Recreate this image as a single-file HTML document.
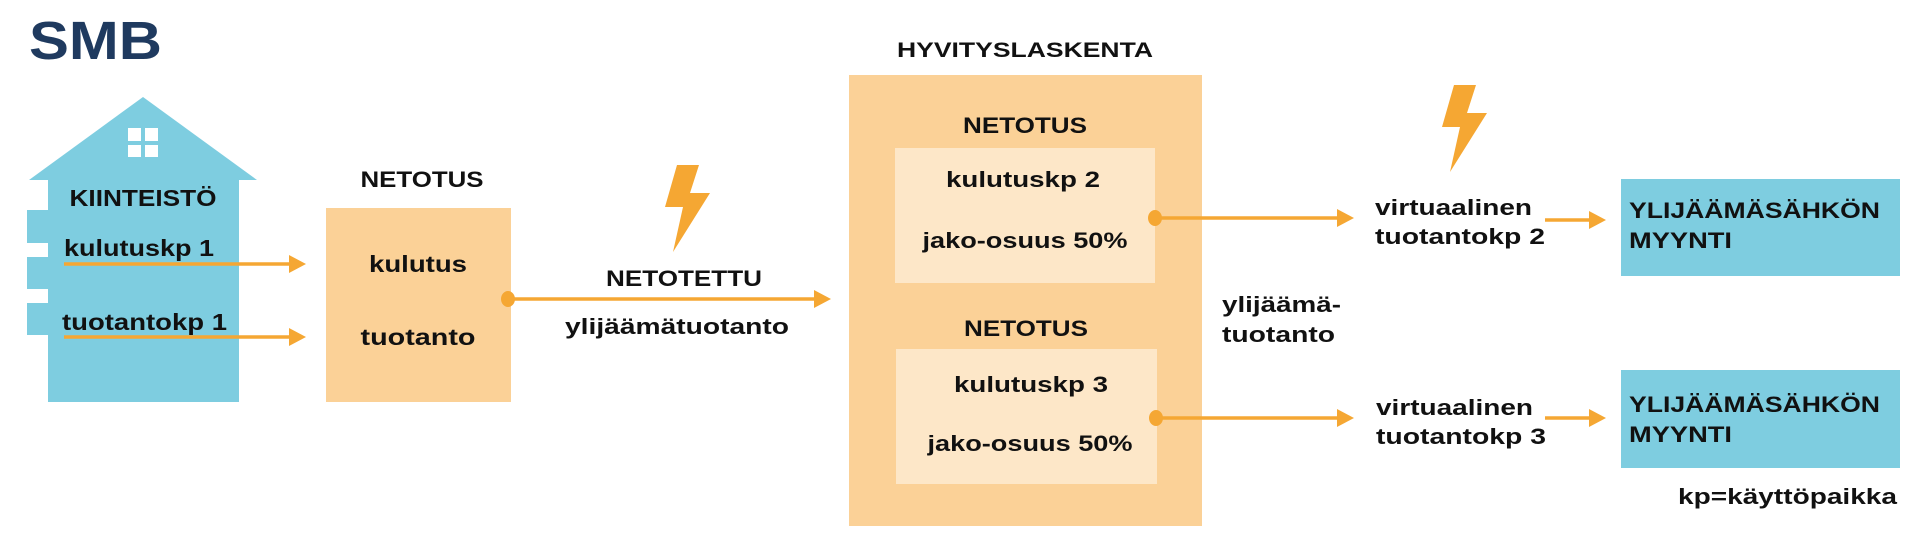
<!DOCTYPE html>
<html><head><meta charset="utf-8"><style>
html,body{margin:0;padding:0;background:#fff;}
svg{display:block;}
text{font-family:"Liberation Sans",sans-serif;font-weight:bold;fill:#111;}
</style></head><body>
<svg width="1920" height="544" viewBox="0 0 1920 544" xmlns="http://www.w3.org/2000/svg">
<text x="29" y="59" font-size="54" style="fill:#1f3a5f" textLength="133" lengthAdjust="spacingAndGlyphs">SMB</text>

<!-- house -->
<g fill="#7ecde0">
<polygon points="29,180 143,97 257,180"/>
<rect x="48" y="179" width="191" height="223"/>
<rect x="27" y="210" width="22" height="33"/>
<rect x="27" y="257" width="22" height="32"/>
<rect x="27" y="303" width="22" height="32"/>
</g>
<g fill="#fff">
<rect x="128" y="128" width="13" height="13"/><rect x="145" y="128" width="13" height="13"/>
<rect x="128" y="145" width="13" height="12"/><rect x="145" y="145" width="13" height="12"/>
</g>
<text x="143" y="206" font-size="23" text-anchor="middle" textLength="147" lengthAdjust="spacingAndGlyphs">KIINTEISTÖ</text>
<text x="64" y="256" font-size="23" textLength="150" lengthAdjust="spacingAndGlyphs">kulutuskp 1</text>
<text x="62" y="330" font-size="23" textLength="165" lengthAdjust="spacingAndGlyphs">tuotantokp 1</text>

<text x="422" y="187" font-size="22" text-anchor="middle" textLength="123" lengthAdjust="spacingAndGlyphs">NETOTUS</text>
<rect x="326" y="208" width="185" height="194" fill="#fbd197"/>
<text x="418" y="272" font-size="23" text-anchor="middle" textLength="98" lengthAdjust="spacingAndGlyphs">kulutus</text>
<text x="418" y="345" font-size="23" text-anchor="middle" textLength="115" lengthAdjust="spacingAndGlyphs">tuotanto</text>

<text x="684" y="286" font-size="22" text-anchor="middle" textLength="156" lengthAdjust="spacingAndGlyphs">NETOTETTU</text>
<text x="677" y="334" font-size="22" text-anchor="middle" textLength="224" lengthAdjust="spacingAndGlyphs">ylijäämätuotanto</text>

<text x="1025" y="57" font-size="21" text-anchor="middle" textLength="256" lengthAdjust="spacingAndGlyphs">HYVITYSLASKENTA</text>
<rect x="849" y="75" width="353" height="451" fill="#fbd197"/>
<text x="1025" y="133" font-size="22" text-anchor="middle" textLength="124" lengthAdjust="spacingAndGlyphs">NETOTUS</text>
<rect x="895" y="148" width="260" height="135" fill="#fde7c8"/>
<text x="1023" y="187" font-size="22" text-anchor="middle" textLength="154" lengthAdjust="spacingAndGlyphs">kulutuskp 2</text>
<text x="1025" y="248" font-size="22" text-anchor="middle" textLength="205" lengthAdjust="spacingAndGlyphs">jako-osuus 50%</text>
<text x="1026" y="336" font-size="22" text-anchor="middle" textLength="124" lengthAdjust="spacingAndGlyphs">NETOTUS</text>
<rect x="896" y="349" width="261" height="135" fill="#fde7c8"/>
<text x="1031" y="392" font-size="22" text-anchor="middle" textLength="154" lengthAdjust="spacingAndGlyphs">kulutuskp 3</text>
<text x="1030" y="451" font-size="22" text-anchor="middle" textLength="205" lengthAdjust="spacingAndGlyphs">jako-osuus 50%</text>

<text x="1222" y="312" font-size="22" textLength="119" lengthAdjust="spacingAndGlyphs">ylijäämä-</text>
<text x="1222" y="342" font-size="22" textLength="113" lengthAdjust="spacingAndGlyphs">tuotanto</text>

<text x="1375" y="215" font-size="22" textLength="157" lengthAdjust="spacingAndGlyphs">virtuaalinen</text>
<text x="1375" y="244" font-size="22" textLength="170" lengthAdjust="spacingAndGlyphs">tuotantokp 2</text>
<text x="1376" y="415" font-size="22" textLength="157" lengthAdjust="spacingAndGlyphs">virtuaalinen</text>
<text x="1376" y="444" font-size="22" textLength="170" lengthAdjust="spacingAndGlyphs">tuotantokp 3</text>

<rect x="1621" y="179" width="279" height="97" fill="#7ecde0"/>
<text x="1629" y="218" font-size="22" textLength="251" lengthAdjust="spacingAndGlyphs">YLIJÄÄMÄSÄHKÖN</text>
<text x="1629" y="248" font-size="22" textLength="103" lengthAdjust="spacingAndGlyphs">MYYNTI</text>
<rect x="1621" y="370" width="279" height="98" fill="#7ecde0"/>
<text x="1629" y="412" font-size="22" textLength="251" lengthAdjust="spacingAndGlyphs">YLIJÄÄMÄSÄHKÖN</text>
<text x="1629" y="442" font-size="22" textLength="103" lengthAdjust="spacingAndGlyphs">MYYNTI</text>

<text x="1897" y="504" font-size="22" text-anchor="end" textLength="219" lengthAdjust="spacingAndGlyphs">kp=käyttöpaikka</text>

<g stroke="#f5a733" stroke-width="3.5">
<line x1="64" y1="264" x2="292" y2="264"/>
<line x1="64" y1="337" x2="292" y2="337"/>
<line x1="508" y1="299" x2="816" y2="299"/>
<line x1="1155" y1="218" x2="1339" y2="218"/>
<line x1="1156" y1="418" x2="1339" y2="418"/>
<line x1="1545" y1="220" x2="1590" y2="220"/>
<line x1="1545" y1="418" x2="1590" y2="418"/>
</g>
<g fill="#f5a733">
<polygon points="289,255 306,264 289,273"/>
<polygon points="289,328 306,337 289,346"/>
<polygon points="814,290 831,299 814,308"/>
<polygon points="1337,209 1354,218 1337,227"/>
<polygon points="1337,409 1354,418 1337,427"/>
<polygon points="1589,211 1606,220 1589,229"/>
<polygon points="1589,409 1606,418 1589,427"/>
<ellipse cx="508" cy="299" rx="7" ry="8"/>
<ellipse cx="1155" cy="218" rx="7" ry="8"/>
<ellipse cx="1156" cy="418" rx="7" ry="8"/>
<polygon points="677,165 699,165 690,193 710,193 673,252 683,207 665,207"/>
<polygon points="1454,85 1476,85 1467,113 1487,113 1450,172 1460,127 1442,127"/>
</g>
</svg>
</body></html>
